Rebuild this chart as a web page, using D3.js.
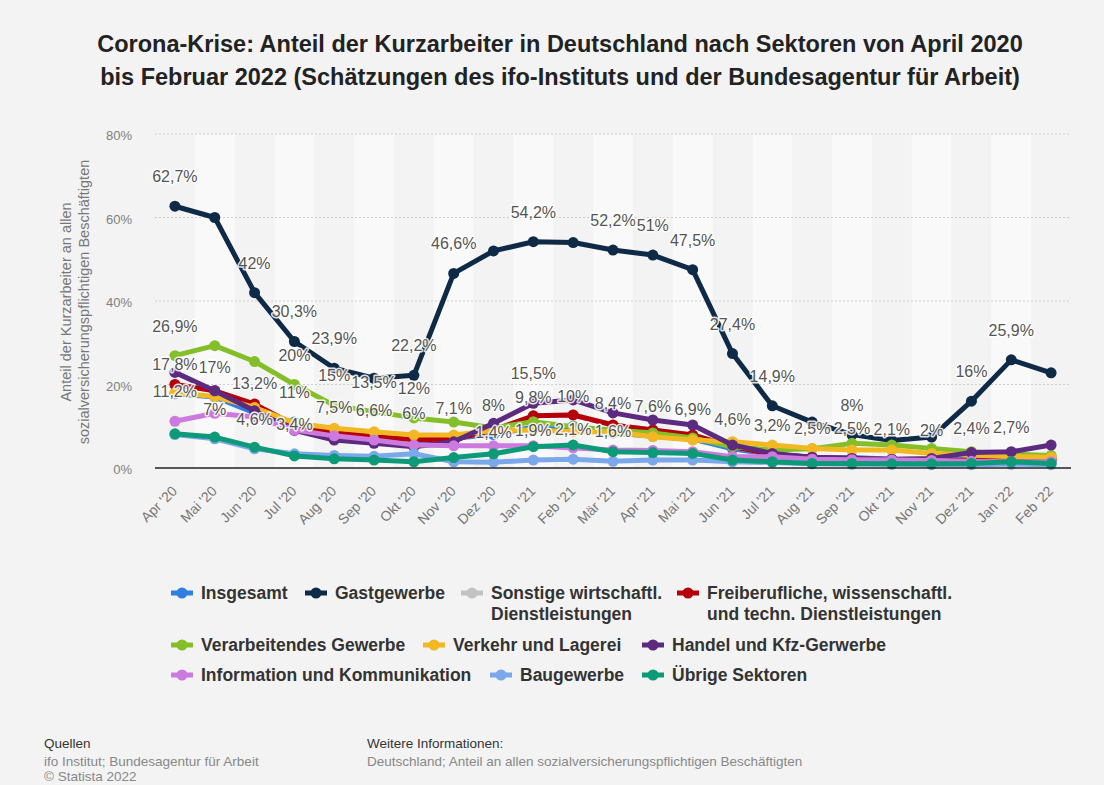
<!DOCTYPE html>
<html><head><meta charset="utf-8">
<script src="https://cdn.jsdelivr.net/npm/d3@7/dist/d3.min.js"></script>
<style>
body{margin:0;background:#f3f3f3;}
svg{display:block;font-family:"Liberation Sans",Arial,Helvetica,sans-serif;}
</style>
</head><body>
<svg id="chart" width="1104" height="785"></svg>
<script>
// ---------------- DATA ----------------
const months = ["Apr '20","Mai '20","Jun '20","Jul '20","Aug '20","Sep '20","Okt '20","Nov '20","Dez '20",
  "Jan '21","Feb '21","Mär '21","Apr '21","Mai '21","Jun '21","Jul '21","Aug '21","Sep '21","Okt '21","Nov '21","Dez '21",
  "Jan '22","Feb '22"];
const insgesamt      = [17.8,17,13.2,11,7.5,6.6,6,7.1,8,9.8,10,8.4,7.6,6.9,4.6,3.2,2.5,2.5,2.1,2,2.4,2.7,2.6];
const gastgewerbe    = [62.7,60,42,30.3,23.9,21.5,22.2,46.6,52,54.2,54,52.2,51,47.5,27.4,14.9,11,8,6.6,7.4,16,25.9,22.8];
const sonstige       = [20,18.5,15.3,10.3,8.6,7.5,6.8,6.8,9.1,12.5,12.7,10.3,9.1,7.9,5.1,3.3,2.6,2.3,2.0,1.9,1.8,1.8,1.8];
const freiberufliche = [20,18.5,15.3,10.3,8.6,7.5,6.8,6.8,9.1,12.5,12.7,10.3,9.1,7.9,5.1,3.3,2.6,2.3,2.0,1.9,1.8,1.8,1.8];
const verarbeitendes = [26.9,29.3,25.5,20,15,13.5,12,11,9.6,11.1,9.9,9.1,8.4,7.2,5.1,4.3,4.6,5.9,5.5,4.7,3.9,3.3,3.0];
const verkehr        = [18,17.1,14.5,10.8,9.5,8.7,7.9,7.9,9,9.1,8.7,8.7,7.5,6.7,6.3,5.5,4.7,4.3,4.3,3.5,3.1,2.7,2.6];
const handel         = [22.9,18.5,13.7,9,6.7,5.9,5.1,6.3,10.7,15.5,16.3,13.2,11.5,10.3,5.5,3.5,2.6,2.3,2.1,2.3,3.7,3.9,5.5];
const information    = [11.2,13.1,12.2,9.1,7.7,6.7,5.5,5.3,5.3,5.3,4.8,4.3,4.2,3.9,2.7,2.7,2.1,2,1.9,1.8,1.6,1.5,1.5];
const baugewerbe     = [8,7,4.6,3.4,3,2.8,3.4,1.5,1.4,1.9,2.1,1.6,1.9,1.9,1.5,1.3,1,0.9,0.9,0.8,0.8,0.9,0.8];
const uebrige        = [8.2,7.4,5,2.9,2.2,1.9,1.5,2.5,3.4,5.1,5.5,3.9,3.7,3.5,1.9,1.5,1.1,1.1,1.0,1.0,1.1,1.5,1.1];

const seriesNames = ["Insgesamt","Gastgewerbe","Sonstige wirtschaftl.\nDienstleistungen",
  "Freiberufliche, wissenschaftl.\nund techn. Dienstleistungen","Verarbeitendes Gewerbe","Verkehr und Lagerei",
  "Handel und Kfz-Gerwerbe","Information und Kommunikation","Baugewerbe","Übrige Sektoren"];
const seriesValues = [insgesamt,gastgewerbe,sonstige,freiberufliche,verarbeitendes,verkehr,handel,information,baugewerbe,uebrige];
const seriesColors = ["#2e7fe0","#0e2a47","#c2c2c2","#b5000b","#84bf2a","#f2b824","#5c2a7e","#cc7ade","#7aa8ea","#0d9a78"];
const yTicks = [0,20,40,60,80];
// data labels that are visible (series index -> month indices)
const visibleLabels = {
  0:[0,1,2,3,4,5,6,7,8,9,10,11,12,13,14,15,16,17,18,19,20,21],
  1:[0,2,3,4,6,7,9,11,12,13,14,15,17,20,21],
  4:[0,3,4,5,6],
  6:[9],
  7:[0],
  8:[1,2,3,8,9,10,11]
};
const titleLines = ["Corona-Krise: Anteil der Kurzarbeiter in Deutschland nach Sektoren von April 2020",
  "bis Februar 2022 (Schätzungen des ifo-Instituts und der Bundesagentur für Arbeit)"];
const yTitle = ["Anteil der Kurzarbeiter an allen","sozialversicherungspflichtigen Beschäftigten"];

// ---------------- LAYOUT ----------------
const svg = d3.select("#chart");
const W = 1104, H = 785;
const plot = {left:155, right:1071, top:134, bottom:468};
svg.append("rect").attr("width",W).attr("height",H).attr("fill","#f3f3f3");

const x = d3.scaleBand().domain(months).range([plot.left, plot.right]).padding(0);
const cx = m => x(m) + x.bandwidth()/2;
const y = d3.scaleLinear().domain([0,80]).range([plot.bottom, plot.top]);

// alternating bands
svg.append("g").selectAll("rect").data(months.filter((m,i)=>i%2===1)).join("rect")
  .attr("x", d=>x(d)).attr("width", x.bandwidth())
  .attr("y", plot.top).attr("height", plot.bottom-plot.top)
  .attr("fill", "#f9f9f9");

// title
svg.append("g").selectAll("text").data(titleLines).join("text")
  .attr("x", 560).attr("y",(d,i)=>52+i*33)
  .attr("text-anchor","middle").attr("font-size",23.5).attr("font-weight","bold").attr("fill","#222")
  .text(d=>d);

// grid
const yAxis = d3.axisLeft(y).tickValues(yTicks).tickFormat(d=>d+"%").tickSize(0).tickPadding(0);
const gy = svg.append("g").attr("transform",`translate(${plot.left},0)`).call(yAxis);
gy.select(".domain").remove();
gy.selectAll(".tick line").remove();
gy.selectAll(".tick text").attr("x",-23).attr("dy","0.45em").attr("font-size",13).attr("fill","#808080")
  .attr("font-family","Liberation Sans, Arial, sans-serif");
svg.append("g").selectAll("line").data(yTicks.filter(t=>t>0)).join("line")
  .attr("x1",plot.left).attr("x2",plot.right).attr("y1",d=>y(d)).attr("y2",d=>y(d))
  .attr("stroke","#cfcfcf").attr("stroke-dasharray","2,2").attr("stroke-width",1);

// y title
svg.append("g").selectAll("text").data(yTitle).join("text")
  .attr("transform",(d,i)=>`translate(${71+i*18},302) rotate(-90)`)
  .attr("text-anchor","middle").attr("font-size",14.5).attr("fill","#777").text(d=>d);

// x axis
const xAxis = d3.axisBottom(x).tickSize(0).tickPadding(0);
const gx = svg.append("g").attr("transform",`translate(0,${plot.bottom})`).call(xAxis);
gx.select(".domain").remove();
gx.selectAll(".tick text").attr("text-anchor","end").attr("font-size",14).attr("fill","#777")
  .attr("font-family","Liberation Sans, Arial, sans-serif")
  .attr("dy",null).attr("y",0)
  .attr("transform","translate(3,24) rotate(-45)");

// lines
const line = d3.line().x((d,i)=>cx(months[i])).y(d=>y(d));
const gSeries = svg.append("g");
seriesValues.forEach((vals,si)=>{
  const g = gSeries.append("g");
  g.append("path").datum(vals).attr("d",line).attr("fill","none")
    .attr("stroke",seriesColors[si]).attr("stroke-width",5).attr("stroke-linejoin","round").attr("stroke-linecap","round");
  g.selectAll("circle").data(vals).join("circle")
    .attr("cx",(d,i)=>cx(months[i])).attr("cy",d=>y(d)).attr("r",5.5).attr("fill",seriesColors[si]);
});

// zero line
svg.append("line").attr("x1",plot.left).attr("x2",plot.right).attr("y1",y(0)).attr("y2",y(0))
  .attr("stroke","#222").attr("stroke-width",1.5);

// data labels
const fmt = v => String(v).replace(".",",")+"%";
const labelData = [];
Object.keys(visibleLabels).forEach(k=>{
  visibleLabels[k].forEach(i=>labelData.push({s:+k,i:i,v:seriesValues[+k][i]}));
});
svg.append("g").selectAll("text").data(labelData).join("text")
  .attr("x",d=>cx(months[d.i])).attr("y",d=>y(d.v)-24)
  .attr("text-anchor","middle").attr("font-size",16).attr("fill","#555")
  .attr("stroke","#fff").attr("stroke-width",3).attr("stroke-opacity",0.85)
  .attr("stroke-linejoin","round").attr("paint-order","stroke")
  .text(d=>fmt(d.v));

// legend
const legendPos = [[201,599],[335,599],[491,599],[707,599],[201,651],[453,651],[672,651],[201,681],[520,681],[672,681]];
const gl = svg.append("g");
seriesNames.forEach((name,si)=>{
  const [tx,ty] = legendPos[si];
  const g = gl.append("g");
  const sy = ty-6;
  g.append("line").attr("x1",tx-30).attr("x2",tx-8).attr("y1",sy).attr("y2",sy)
    .attr("stroke",seriesColors[si]).attr("stroke-width",5);
  g.append("circle").attr("cx",tx-19).attr("cy",sy).attr("r",5.5).attr("fill",seriesColors[si]);
  const t = g.append("text").attr("x",tx).attr("y",ty).attr("font-size",17.5).attr("font-weight","bold").attr("fill","#333");
  name.split("\n").forEach((ln,k)=>{
    t.append("tspan").attr("x",tx).attr("dy",k===0?0:21).text(ln);
  });
});

// footer
const foot = svg.append("g").attr("font-size",13.5);
foot.append("text").attr("x",44).attr("y",748).attr("fill","#333").text("Quellen");
foot.append("text").attr("x",44).attr("y",766).attr("fill","#888").text("ifo Institut; Bundesagentur für Arbeit");
foot.append("text").attr("x",44).attr("y",781).attr("fill","#888").text("© Statista 2022");
foot.append("text").attr("x",367).attr("y",748).attr("fill","#333").text("Weitere Informationen:");
foot.append("text").attr("x",367).attr("y",766).attr("fill","#888").text("Deutschland; Anteil an allen sozialversicherungspflichtigen Beschäftigten");
</script>
</body></html>
